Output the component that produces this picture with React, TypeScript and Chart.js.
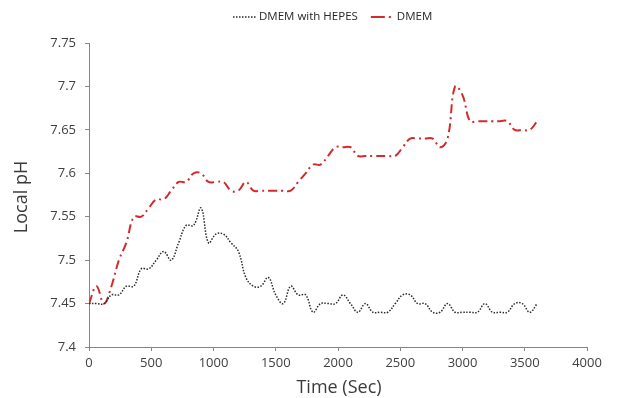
import React, { useEffect, useRef } from 'react';
import { Chart, registerables } from 'chart.js';
Chart.register(...registerables);

const timeSec = [
  0, 60, 120, 180, 240, 300, 360, 420, 480, 540, 600, 660, 720, 780, 840, 900, 960, 1020, 1080, 1140,
  1200, 1260, 1320, 1380, 1440, 1500, 1560, 1620, 1680, 1740, 1800, 1860, 1920, 1980, 2040, 2100, 2160, 2220, 2280, 2340,
  2400, 2460, 2520, 2580, 2640, 2700, 2760, 2820, 2880, 2940, 3000, 3060, 3120, 3180, 3240, 3300, 3360, 3420, 3480, 3540, 3600,
];

const dmemHepes = [
  7.45, 7.45, 7.45, 7.46, 7.46, 7.47, 7.47, 7.49, 7.49, 7.5, 7.51, 7.5, 7.52, 7.54, 7.54, 7.56, 7.52, 7.53, 7.53, 7.52,
  7.51, 7.48, 7.47, 7.47, 7.48, 7.46, 7.45, 7.47, 7.46, 7.46, 7.44, 7.45, 7.45, 7.45, 7.46, 7.45, 7.44, 7.45, 7.44, 7.44,
  7.44, 7.45, 7.46, 7.46, 7.45, 7.45, 7.44, 7.44, 7.45, 7.44, 7.44, 7.44, 7.44, 7.45, 7.44, 7.44, 7.44, 7.45, 7.45, 7.44, 7.45,
];

const dmem = [
  7.45, 7.47, 7.45, 7.47, 7.5, 7.52, 7.55, 7.55, 7.56, 7.57, 7.57, 7.58, 7.59, 7.59, 7.6, 7.6, 7.59, 7.59, 7.59, 7.58,
  7.58, 7.59, 7.58, 7.58, 7.58, 7.58, 7.58, 7.58, 7.59, 7.6, 7.61, 7.61, 7.62, 7.63, 7.63, 7.63, 7.62, 7.62, 7.62, 7.62,
  7.62, 7.62, 7.63, 7.64, 7.64, 7.64, 7.64, 7.63, 7.64, 7.7, 7.69, 7.66, 7.66, 7.66, 7.66, 7.66, 7.66, 7.65, 7.65, 7.65, 7.66,
];

const seriesNames = ['DMEM with HEPES', 'DMEM'];
const xTitle = 'Time (Sec)';
const yTitle = 'Local pH';

const FONT = '"Open Sans", "Liberation Sans", sans-serif';

const overlayPlugin = {
  id: 'overlay',
  afterDraw(chart: any) {
    const ctx = chart.ctx;
    ctx.save();
    // legend
    ctx.font = `11.5px ${FONT}`;
    ctx.textBaseline = 'middle';
    ctx.textAlign = 'left';
    ctx.fillStyle = '#262626';
    const ly = 17;
    const ds = chart.data.datasets;
    let x = 233;
    ctx.lineWidth = 1.5;
    ctx.strokeStyle = ds[0].borderColor;
    ctx.setLineDash(ds[0].borderDash);
    ctx.beginPath();
    ctx.moveTo(x, ly);
    ctx.lineTo(x + 23, ly);
    ctx.stroke();
    x += 26;
    ctx.fillText(seriesNames[0], x, ly);
    x += ctx.measureText(seriesNames[0]).width + 13;
    ctx.lineWidth = 2;
    ctx.strokeStyle = ds[1].borderColor;
    ctx.setLineDash([14, 4, 2, 20]);
    ctx.beginPath();
    ctx.moveTo(x, ly);
    ctx.lineTo(x + 20, ly);
    ctx.stroke();
    x += 26;
    ctx.setLineDash([]);
    ctx.fillText(seriesNames[1], x, ly);

    // axis titles
    ctx.fillStyle = '#3a3a3a';
    ctx.font = `18px ${FONT}`;
    ctx.textAlign = 'center';
    ctx.textBaseline = 'middle';
    ctx.fillText(xTitle, 339, 388);
    ctx.translate(22, 197);
    ctx.rotate(-Math.PI / 2);
    ctx.fillText(yTitle, 0, 0);
    ctx.restore();
  },
};

export default function App() {
  const ref = useRef<HTMLCanvasElement>(null);
  useEffect(() => {
    document.body.style.margin = '0';
    const chart = new Chart(ref.current as HTMLCanvasElement, {
      type: 'line',
      data: {
        datasets: [
          {
            label: seriesNames[0],
            data: timeSec.map((t, i) => ({ x: t, y: dmemHepes[i] })),
            borderColor: '#2b2b2b',
            borderWidth: 1.5,
            borderDash: [1.5, 1.5],
            pointRadius: 0,
            tension: 0.4,
            fill: false,
          },
          {
            label: seriesNames[1],
            data: timeSec.map((t, i) => ({ x: t, y: dmem[i] })),
            borderColor: '#d42a2a',
            borderWidth: 2,
            borderDash: [9, 4, 2, 4],
            pointRadius: 0,
            tension: 0.4,
            fill: false,
          },
        ],
      },
      plugins: [overlayPlugin],
      options: {
        animation: false,
        responsive: false,
        layout: { padding: { top: 43, right: 32, left: 0, bottom: 0 } },
        plugins: { legend: { display: false }, tooltip: { enabled: false } },
        scales: {
          x: {
            type: 'linear',
            min: 0,
            max: 4000,
            afterFit: (s: any) => { s.height = 51; },
            ticks: {
              stepSize: 500,
              padding: 4,
              color: '#404040',
              font: { family: FONT, size: 13 },
              maxRotation: 0,
              callback: (v: any) => String(v),
            },
            grid: { drawOnChartArea: false, drawTicks: true, tickLength: 4, color: '#868686' },
            border: { display: true, color: '#868686', width: 1 },
          },
          y: {
            min: 7.4,
            max: 7.75,
            afterFit: (s: any) => { s.width = 89; },
            ticks: {
              stepSize: 0.05,
              padding: 9,
              color: '#404040',
              font: { family: FONT, size: 13 },
              callback: (v: any) => String(parseFloat(Number(v).toFixed(2))),
            },
            grid: { drawOnChartArea: false, drawTicks: true, tickLength: 4, color: '#868686' },
            border: { display: true, color: '#868686', width: 1 },
          },
        },
      },
    });
    return () => chart.destroy();
  }, []);
  return (
    <div style={{ position: 'absolute', left: 0, top: 0, width: 619, height: 398 }}>
      <canvas ref={ref} width={619} height={398} style={{ width: 619, height: 398 }} />
    </div>
  );
}
